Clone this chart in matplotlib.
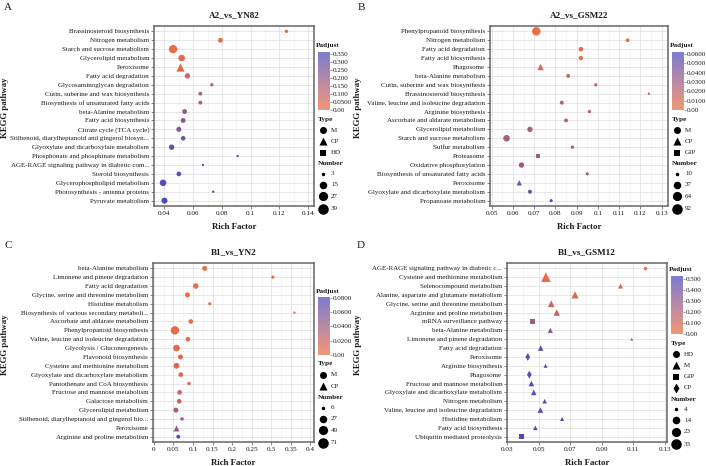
import numpy as np
import matplotlib
matplotlib.use("Agg")
import matplotlib.pyplot as plt
from matplotlib.colors import LinearSegmentedColormap, Normalize
from matplotlib.colorbar import ColorbarBase

plt.rcParams["font.family"] = ["Liberation Serif", "DejaVu Serif"]

W, H = 706, 466

# ---------------- data ----------------
a_pathways = ["Brassinosteroid biosynthesis", "Nitrogen metabolism", "Starch and sucrose metabolism",
              "Glycerolipid metabolism", "Peroxisome", "Fatty acid degradation",
              "Glycosaminoglycan degradation", "Cutin, suberine and wax biosynthesis",
              "Biosynthesis of unsaturated fatty acids", "beta-Alanine metabolism",
              "Fatty acid biosynthesis", "Citrate cycle (TCA cycle)",
              "Stilbenoid, diarylheptanoid and gingerol biosyn...",
              "Glyoxylate and dicarboxylate metabolism", "Phosphonate and phosphinate metabolism",
              "AGE-RAGE signaling pathway in diabetic com...", "Steroid biosynthesis",
              "Glycerophospholipid metabolism", "Photosynthesis - antenna proteins",
              "Pyruvate metabolism"]
a_rich = [0.125, 0.079, 0.046, 0.052, 0.051, 0.056, 0.073, 0.065, 0.065, 0.054,
          0.053, 0.050, 0.053, 0.045, 0.091, 0.067, 0.050, 0.039, 0.074, 0.040]
a_number = [4, 9, 39, 20, 26, 12, 4, 5, 5, 9, 9, 10, 8, 12, 3, 4, 8, 20, 3, 16]
a_padj = [0.005, 0.01, 0.015, 0.03, 0.035, 0.08, 0.12, 0.17, 0.17, 0.20,
          0.21, 0.24, 0.26, 0.30, 0.32, 0.33, 0.33, 0.34, 0.35, 0.36]
a_type = ["M"] * 4 + ["CP"] + ["M"] * 10 + ["HD"] + ["M"] * 4
a_type_levels = ["M", "CP", "HD"]
a_num_breaks = [3, 15, 27, 39]
a_xticks = [0.04, 0.06, 0.08, 0.1, 0.12, 0.14]
a_cb_ticks = [0.0, 0.05, 0.1, 0.15, 0.2, 0.25, 0.3, 0.35]
a_cb_labels = ["0.00", "0.0500", "0.100", "0.150", "0.200", "0.250", "0.300", "0.350"]

b_pathways = ["Phenylpropanoid biosynthesis", "Nitrogen metabolism", "Fatty acid degradation",
              "Fatty acid biosynthesis", "Phagosome", "beta-Alanine metabolism",
              "Cutin, suberine and wax biosynthesis", "Brassinosteroid biosynthesis",
              "Valine, leucine and isoleucine degradation", "Arginine biosynthesis",
              "Ascorbate and aldarate metabolism", "Glycerolipid metabolism",
              "Starch and sucrose metabolism", "Sulfur metabolism", "Proteasome",
              "Oxidative phosphorylation", "Biosynthesis of unsaturated fatty acids",
              "Peroxisome", "Glyoxylate and dicarboxylate metabolism", "Propanoate metabolism"]
b_rich = [0.071, 0.114, 0.092, 0.092, 0.073, 0.086, 0.099, 0.124, 0.083, 0.096,
          0.085, 0.068, 0.057, 0.088, 0.072, 0.064, 0.095, 0.063, 0.068, 0.078]
b_number = [92, 14, 21, 18, 33, 15, 12, 10, 16, 12, 15, 30, 50, 12, 16, 30, 11, 22, 16, 11]
b_padj = [0.001, 0.003, 0.005, 0.006, 0.010, 0.014, 0.016, 0.017, 0.020, 0.021,
          0.022, 0.026, 0.027, 0.028, 0.030, 0.032, 0.034, 0.045, 0.048, 0.061]
b_type = ["M"] * 4 + ["CP"] + ["M"] * 9 + ["GIP"] + ["M"] * 2 + ["CP"] + ["M"] * 2
b_type_levels = ["M", "CP", "GIP"]
b_num_breaks = [10, 37, 64, 92]
b_xticks = [0.05, 0.06, 0.07, 0.08, 0.09, 0.1, 0.11, 0.12, 0.13]
b_cb_ticks = [0.0, 0.01, 0.02, 0.03, 0.04, 0.05, 0.06]
b_cb_labels = ["0.00", "0.0100", "0.0200", "0.0300", "0.0400", "0.0500", "0.0600"]

c_pathways = ["beta-Alanine metabolism", "Limonene and pinene degradation", "Fatty acid degradation",
              "Glycine, serine and threonine metabolism", "Histidine metabolism",
              "Biosynthesis of various secondary metaboli...", "Ascorbate and aldarate metabolism",
              "Phenylpropanoid biosynthesis", "Valine, leucine and isoleucine degradation",
              "Glycolysis / Gluconeogenesis", "Flavonoid biosynthesis",
              "Cysteine and methionine metabolism", "Glyoxylate and dicarboxylate metabolism",
              "Pantothenate and CoA biosynthesis", "Fructose and mannose metabolism",
              "Galactose metabolism", "Glycerolipid metabolism",
              "Stilbenoid, diarylheptanoid and gingerol bio...", "Peroxisome",
              "Arginine and proline metabolism"]
c_rich = [0.130, 0.304, 0.107, 0.086, 0.143, 0.359, 0.0945, 0.054, 0.087, 0.058,
          0.068, 0.058, 0.069, 0.090, 0.066, 0.065, 0.0565, 0.072, 0.0565, 0.0625]
c_number = [18, 7, 23, 18, 7, 6, 15, 71, 15, 38, 18, 27, 15, 8, 15, 15, 18, 8, 20, 10]
c_padj = [0.001, 0.002, 0.002, 0.003, 0.003, 0.004, 0.005, 0.004, 0.006, 0.008,
          0.010, 0.012, 0.013, 0.015, 0.018, 0.020, 0.035, 0.042, 0.046, 0.080]
c_type = ["M"] * 18 + ["CP"] + ["M"]
c_type_levels = ["M", "CP"]
c_num_breaks = [6, 27, 49, 71]
c_xticks = [0, 0.05, 0.1, 0.15, 0.2, 0.25, 0.3, 0.35, 0.4]
c_cb_ticks = [0.0, 0.02, 0.04, 0.06, 0.08]
c_cb_labels = ["0.00", "0.0200", "0.0400", "0.0600", "0.0800"]

d_pathways = ["AGE-RAGE signaling pathway in diabetic c...", "Cysteine and methionine metabolism",
              "Selenocompound metabolism", "Alanine, aspartate and glutamate metabolism",
              "Glycine, serine and threonine metabolism", "Arginine and proline metabolism",
              "mRNA surveillance pathway", "beta-Alanine metabolism",
              "Limonene and pinene degradation", "Fatty acid degradation", "Peroxisome",
              "Arginine biosynthesis", "Phagosome", "Fructose and mannose metabolism",
              "Glyoxylate and dicarboxylate metabolism", "Nitrogen metabolism",
              "Valine, leucine and isoleucine degradation", "Histidine metabolism",
              "Fatty acid biosynthesis", "Ubiquitin mediated proteolysis"]
d_rich = [0.1176, 0.0545, 0.1019, 0.0730, 0.0579, 0.0614, 0.0459, 0.0573, 0.1090, 0.0512,
          0.0430, 0.0543, 0.0440, 0.0453, 0.0468, 0.0537, 0.0510, 0.0648, 0.0478, 0.0392]
d_number = [5, 33, 7, 16, 14, 12, 14, 8, 4, 9, 12, 5, 12, 9, 9, 6, 9, 5, 6, 12]
d_padj = [0.005, 0.03, 0.06, 0.08, 0.12, 0.14, 0.27, 0.30, 0.34, 0.45,
          0.47, 0.48, 0.48, 0.49, 0.49, 0.50, 0.50, 0.51, 0.51, 0.53]
d_type = ["HD", "M", "M", "M", "M", "M", "GIP", "M", "M", "M",
          "CP", "M", "CP", "M", "M", "M", "M", "M", "M", "GIP"]
d_type_levels = ["HD", "M", "GIP", "CP"]
d_num_breaks = [4, 14, 23, 33]
d_xticks = [0.03, 0.05, 0.07, 0.09, 0.11, 0.13]
d_cb_ticks = [0.0, 0.1, 0.2, 0.3, 0.4, 0.5]
d_cb_labels = ["0.00", "0.100", "0.200", "0.300", "0.400", "0.500"]

# ---------------- style ----------------
cmap = LinearSegmentedColormap.from_list("padj", ["#F06E42", "#4A4AC0"])
shape_markers = ["o", "^", "s", "d"]
marker_scale = {"o": 1.0, "^": 1.15, "s": 0.85, "d": 1.0}
TXT = "#1a1a1a"

fig = plt.figure(figsize=(W / 100, H / 100), dpi=100)
overlay = fig.add_axes([0, 0, 1, 1], zorder=5)
overlay.set_xlim(0, W)
overlay.set_ylim(H, 0)
overlay.axis("off")


def px_rect(l, t, r, b):
    return [l / W, 1 - b / H, (r - l) / W, (b - t) / H]


def size_pt2(n, nmin, nmax, dmin, dmax, marker):
    frac = np.sqrt(np.clip((np.asarray(n, float) - nmin) / (nmax - nmin), 0, 1))
    d_px = dmin + (dmax - dmin) * frac
    d_pt = d_px * 0.72 * marker_scale[marker]
    return d_pt ** 2


def draw_panel(box, letter_x, letter, title, pathways, rich, number, padj, types, levels,
               num_breaks, xticks, xlim, cb_ticks, cb_labels, cb_max, leg_top):
    l, t, r, b = box
    ax = fig.add_axes(px_rect(l, t, r, b))
    n = len(pathways)
    y = np.arange(n)
    rich = np.array(rich)
    number = np.array(number)
    padj = np.array(padj)
    norm = Normalize(0, cb_max)
    nmin, nmax = num_breaks[0], num_breaks[-1]
    for lev, mk in zip(levels, shape_markers):
        idx = np.array([tp == lev for tp in types])
        if idx.any():
            ax.scatter(rich[idx], y[idx], s=size_pt2(number[idx], nmin, nmax, 2.4, 8.4, mk),
                       c=cmap(norm(padj[idx])), marker=mk, linewidths=0, zorder=3)
    ax.set_ylim(n - 0.4, -0.6)
    ax.set_xlim(*xlim)
    ax.set_yticks(y)
    ax.set_yticklabels(pathways, fontsize=5.0, color=TXT)
    ax.set_xticks(xticks)
    ax.set_xticklabels([("%g" % v) for v in xticks], fontsize=5.2, color=TXT)
    step = xticks[1] - xticks[0]
    ax.set_xticks([v + step / 2 for v in xticks[:-1]], minor=True)
    ax.grid(True, which="major", color="#E3E3E3", lw=0.6, zorder=0)
    ax.grid(True, which="minor", axis="x", color="#EFEFEF", lw=0.4, zorder=0)
    ax.tick_params(which="major", length=2, width=0.5, color="#555555", pad=1.5)
    ax.tick_params(which="minor", length=0)
    for sp in ax.spines.values():
        sp.set_color("#666666")
        sp.set_linewidth(1.1)
    ax.set_axisbelow(True)

    # titles / labels
    cx = (l + r) / 2
    overlay.text(cx, t - 11, title, ha="center", va="center",
                 fontsize=6.6, fontweight="bold", color=TXT)
    overlay.text(cx, b + 21, "Rich Factor", ha="center", va="center",
                 fontsize=6.3, fontweight="bold", color=TXT)
    overlay.text(letter_x - 3, (t + b) / 2 - 8, "KEGG pathway", rotation=90,
                 ha="center", va="center", fontsize=6.3, fontweight="bold", color=TXT)
    overlay.text(letter_x, t - 18, letter, ha="center", va="center", fontsize=8, color=TXT)

    # Padjust legend
    lx = r + 2
    overlay.text(lx, leg_top, "Padjust", ha="left", va="center",
                 fontsize=5.2, fontweight="bold", color=TXT)
    cax = fig.add_axes(px_rect(lx + 2, leg_top + 6, lx + 14, leg_top + 64))
    cb = ColorbarBase(cax, cmap=cmap, norm=norm, orientation="vertical", alpha=0.72)
    cb.outline.set_visible(False)
    cb.set_ticks(cb_ticks)
    cb.set_ticklabels(cb_labels)
    cax.tick_params(labelsize=5.0, length=1.5, width=0.4, color="#555555", pad=0.8,
                    labelcolor=TXT)

    # Type legend
    ty = leg_top + 73
    overlay.text(lx + 2, ty, "Type", ha="left", va="center",
                 fontsize=5.2, fontweight="bold", color=TXT)
    for k, lev in enumerate(levels):
        iy = ty + 11 + k * 11.3
        mk = shape_markers[k]
        overlay.scatter([lx + 7], [iy], s=(7.0 * 0.72 * marker_scale[mk]) ** 2, marker=mk,
                        c="black", linewidths=0)
        overlay.text(lx + 15, iy, lev, ha="left", va="center", fontsize=5.0, color=TXT)

    # Number legend
    ny = ty + 11 + len(levels) * 11.3
    overlay.text(lx + 2, ny, "Number", ha="left", va="center", fontsize=5.2,
                 fontweight="bold", color=TXT)
    offs = [10, 21, 32.5, 45]
    for k, nb in enumerate(num_breaks):
        iy = ny + offs[k]
        overlay.scatter([lx + 7], [iy], s=size_pt2(nb, nmin, nmax, 3.5, 10.5, "o"),
                        c="black", marker="o", linewidths=0)
        overlay.text(lx + 15, iy, str(nb), ha="left", va="center", fontsize=5.0, color=TXT)


draw_panel((154, 26, 314, 206), 8, "A", "A2_vs_YN82", a_pathways, a_rich, a_number, a_padj,
           a_type, a_type_levels, a_num_breaks, a_xticks, (0.0327, 0.1442),
           a_cb_ticks, a_cb_labels, 0.36, 46)
draw_panel((490, 26, 668, 206), 361, "B", "A2_vs_GSM22", b_pathways, b_rich, b_number, b_padj,
           b_type, b_type_levels, b_num_breaks, b_xticks, (0.0492, 0.133),
           b_cb_ticks, b_cb_labels, 0.062, 46)
draw_panel((153, 263, 314, 442), 8, "C", "B1_vs_YN2", c_pathways, c_rich, c_number, c_padj,
           c_type, c_type_levels, c_num_breaks, c_xticks, (-0.002, 0.409),
           c_cb_ticks, c_cb_labels, 0.081, 291)
draw_panel((507, 263, 667, 442), 361, "D", "B1_vs_GSM12", d_pathways, d_rich, d_number, d_padj,
           d_type, d_type_levels, d_num_breaks, d_xticks, (0.0298, 0.1314),
           d_cb_ticks, d_cb_labels, 0.53, 270)

fig.savefig("out.png", dpi=100)
